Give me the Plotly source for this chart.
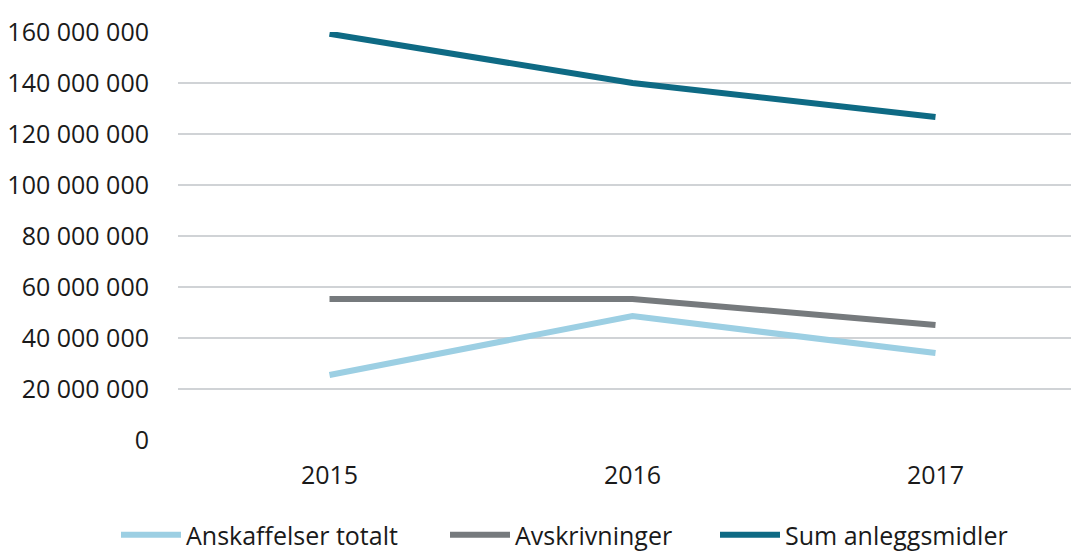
import plotly.graph_objects as go

years = ["2015", "2016", "2017"]
anskaffelser = [25_500_000, 48_600_000, 34_100_000]
avskrivninger = [55_300_000, 55_300_000, 45_100_000]
sum_anlegg = [159_300_000, 140_000_000, 126_700_000]

series = [
    ("Anskaffelser totalt", anskaffelser, "#9CCFE3", "legend", 118),
    ("Avskrivninger", avskrivninger, "#767A7D", "legend2", 447),
    ("Sum anleggsmidler", sum_anlegg, "#0E6A84", "legend3", 717),
]

tickvals = [0, 20_000_000, 40_000_000, 60_000_000, 80_000_000, 100_000_000,
            120_000_000, 140_000_000, 160_000_000]
ticktext = ["0", "20 000 000", "40 000 000", "60 000 000", "80 000 000",
            "100 000 000", "120 000 000", "140 000 000", "160 000 000"]

L, R, T, B = 170, 0, 24, 119
W, H = 1079, 551
pw, ph = W - L - R, H - T - B

fig = go.Figure()
legends = {}
for name, vals, color, lg, lx in series:
    fig.add_trace(go.Scatter(x=years, y=vals, name=name, mode="lines",
                             line=dict(color=color, width=6), legend=lg))
    legends[lg] = dict(orientation="h", xref="paper", yref="paper",
                       x=(lx - L - 10) / pw, xanchor="left",
                       y=(H - B - 527) / ph, yanchor="middle",
                       font=dict(size=25), itemwidth=60,
                       bgcolor="rgba(0,0,0,0)")

fig.update_layout(
    width=W, height=H,
    margin=dict(l=L, r=R, t=T, b=B, autoexpand=False),
    plot_bgcolor="white", paper_bgcolor="white",
    font=dict(family="Open Sans", size=25, color="#1a1a1a"),
    showlegend=True,
    xaxis=dict(type="category", range=[-0.5, 2.5], showgrid=False,
               showline=False, zeroline=False, ticks="", ticklabelstandoff=18),
    yaxis=dict(range=[0, 160_000_000], tickvals=tickvals, ticktext=ticktext,
               showgrid=True, gridcolor="#D0D3D6", gridwidth=2,
               zeroline=False, showline=False, ticks="", ticklabelstandoff=28),
    **legends,
)

fig.write_html("out.html")
